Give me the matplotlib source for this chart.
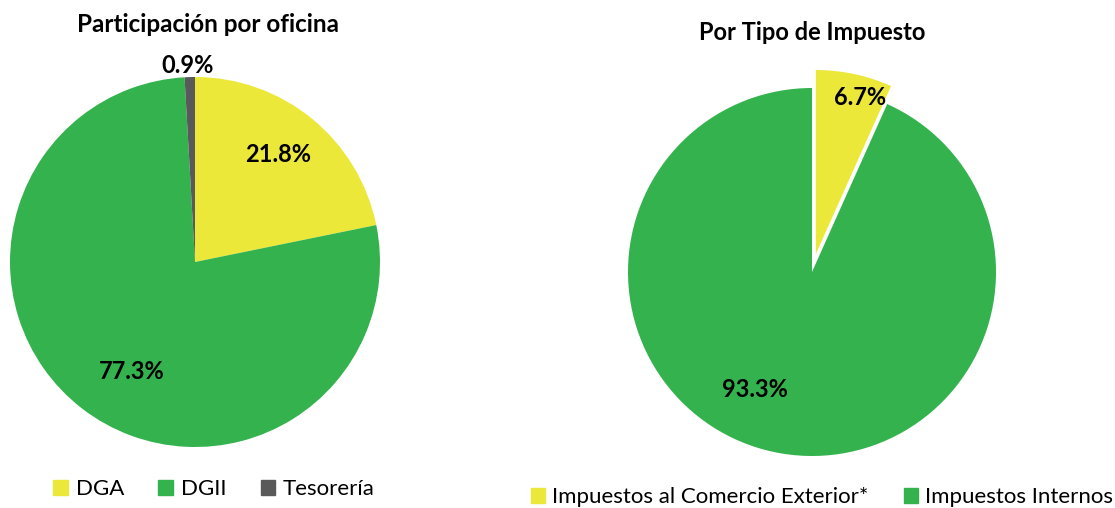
import numpy as np
import matplotlib.pyplot as plt
from matplotlib.patches import Patch

plt.rcParams['font.family'] = ['Lato', 'DejaVu Sans']

# left chart data
oficinas = ["DGA", "DGII", "Tesorería"]
part_oficina = [21.8, 77.3, 0.9]
col_oficina = ["#EBE83A", "#33B24E", "#595959"]

# right chart data
tipos = ["Impuestos al Comercio Exterior*", "Impuestos Internos"]
part_tipo = [6.7, 93.3]
col_tipo = ["#EBE83A", "#33B24E"]

W, H = 1115, 508
fig = plt.figure(figsize=(W / 100, H / 100), dpi=100)


def pie_axes(cx, cy, r):
    return fig.add_axes([(cx - r) / W, (H - cy - r) / H, 2 * r / W, 2 * r / H])


# ----- Participación por oficina -----
ax1 = pie_axes(195, 262, 185)
ax1.pie(part_oficina, colors=col_oficina, startangle=90, counterclock=False,
        radius=1, wedgeprops=dict(linewidth=0))
ax1.set_xlim(-1, 1)
ax1.set_ylim(-1, 1)
ax1.axis("off")
lab_pos1 = [(0.45, 0.58), (-0.34, -0.59), (-0.04, 1.06)]
for v, (x, y) in zip(part_oficina, lab_pos1):
    ax1.text(x, y, f"{v:.1f}%", ha="center", va="center", fontsize=17,
             fontweight="bold", color="black")
fig.text(208 / W, 1 - 25 / H, "Participación por oficina", ha="center", va="center",
         fontsize=17.5, fontweight="bold")
fig.legend(handles=[Patch(color=c, label=l) for c, l in zip(col_oficina, oficinas)],
           loc="center", bbox_to_anchor=(214 / W, 1 - 489 / H), ncol=3, frameon=False,
           fontsize=16, handlelength=0.65, handleheight=0.65, columnspacing=1.55,
           handletextpad=0.35)

# ----- Por Tipo de Impuesto -----
ax2 = pie_axes(812, 272, 184)
ax2.pie(part_tipo, colors=col_tipo, startangle=90, counterclock=False,
        explode=[0.1, 0], radius=1, wedgeprops=dict(linewidth=0))
ax2.set_xlim(-1, 1)
ax2.set_ylim(-1, 1)
ax2.axis("off")
lab_pos2 = [(0.26, 0.95), (-0.31, -0.64)]
for v, (x, y) in zip(part_tipo, lab_pos2):
    ax2.text(x, y, f"{v:.1f}%", ha="center", va="center", fontsize=17,
             fontweight="bold", color="black")
fig.text(812 / W, 1 - 33 / H, "Por Tipo de Impuesto", ha="center", va="center",
         fontsize=17, fontweight="bold")
fig.legend(handles=[Patch(color=c, label=l) for c, l in zip(col_tipo, tipos)],
           loc="center", bbox_to_anchor=(822 / W, 1 - 497 / H), ncol=2, frameon=False,
           fontsize=16, handlelength=0.65, handleheight=0.65, columnspacing=1.6,
           handletextpad=0.3)

fig.savefig("out.png", dpi=100)
